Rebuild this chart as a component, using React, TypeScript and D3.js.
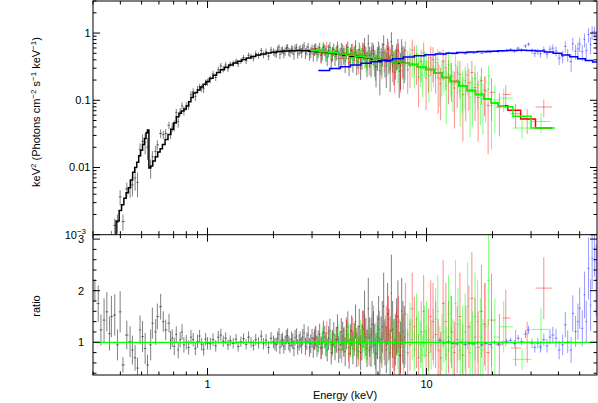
import React, { useEffect, useRef } from "react";
import * as d3 from "d3";

// data rows: [energy keV, data/model ratio, ratio error]
const blackData: [number, number, number][] = [
  [0.306, 2.0, 0.22], [0.317, 1.75, 0.35], [0.326, 1.24, 0.3], [0.337, 1.43, 0.42], [0.347, 1.59, 0.38],
  [0.357, 1.17, 0.33], [0.364, 1.5, 0.4], [0.377, 1.53, 0.4], [0.388, 0.95, 0.3], [0.399, 1.59, 0.4],
  [0.411, 0.56, 0.15], [0.428, 1.14, 0.28], [0.443, 1.01, 0.3], [0.454, 0.85, 0.28], [0.467, 0.7, 0.25],
  [0.479, 0.5, 0.2], [0.492, 1.24, 0.28], [0.505, 1.11, 0.3], [0.519, 0.88, 0.3], [0.532, 0.56, 0.2],
  [0.55, 0.95, 0.3], [0.56, 1.37, 0.3], [0.58, 1.2, 0.25], [0.59, 1.5, 0.25], [0.611, 1.69, 0.25],
  [0.628, 1.4, 0.2], [0.644, 1.24, 0.2], [0.667, 1.37, 0.18], [0.678, 1.04, 0.18],
  [0.69, 1.08, 0.17], [0.705, 0.92, 0.17], [0.72, 1.15, 0.16], [0.735, 0.85, 0.16], [0.75, 1.05, 0.15],
  [0.765, 1.2, 0.15], [0.78, 0.95, 0.15], [0.8, 1.0, 0.14], [0.82, 0.9, 0.14], [0.84, 1.1, 0.14],
  [0.86, 1.05, 0.13], [0.88, 0.88, 0.13], [0.9, 1.02, 0.13], [0.92, 1.12, 0.12], [0.94, 0.96, 0.12],
  [0.96, 0.86, 0.12], [0.98, 1.06, 0.12], [1.0, 0.98, 0.12],
  [1.03, 0.97, 0.12], [1.06, 1.05, 0.12], [1.09, 0.93, 0.11], [1.12, 1.1, 0.12], [1.15, 1.14, 0.12],
  [1.18, 1.02, 0.11], [1.21, 1.08, 0.11], [1.24, 0.95, 0.1], [1.27, 1.03, 0.1], [1.31, 0.98, 0.1],
  [1.35, 1.06, 0.1], [1.38, 0.92, 0.1], [1.42, 1.01, 0.1], [1.46, 1.07, 0.1], [1.5, 0.96, 0.1],
  [1.54, 1.1, 0.11], [1.58, 1.0, 0.1], [1.62, 0.94, 0.1], [1.66, 1.05, 0.11], [1.71, 0.99, 0.11],
  [1.76, 1.12, 0.11], [1.8, 0.97, 0.11], [1.85, 1.04, 0.12], [1.9, 0.9, 0.12], [1.95, 1.08, 0.12],
  [2.0, 1.01, 0.12], [2.03, 0.97, 0.12], [2.06, 0.95, 0.13], [2.09, 1.08, 0.13], [2.12, 1.15, 0.13],
  [2.14, 0.9, 0.13], [2.17, 1.03, 0.13], [2.2, 1.06, 0.13], [2.23, 0.92, 0.14], [2.26, 0.99, 0.14],
  [2.29, 1.1, 0.14], [2.32, 1.13, 0.14], [2.35, 0.98, 0.14], [2.38, 0.94, 0.14], [2.42, 1.06, 0.15],
  [2.45, 1.02, 0.15], [2.48, 0.88, 0.15], [2.51, 1.09, 0.15], [2.55, 1.12, 0.15], [2.58, 0.91, 0.15],
  [2.62, 1.0, 0.16], [2.65, 1.05, 0.16], [2.69, 0.94, 0.16], [2.72, 1.1, 0.16], [2.76, 1.18, 0.17],
  [2.8, 0.92, 0.17], [2.84, 1.02, 0.17], [2.88, 1.14, 0.17], [2.92, 0.9, 0.18], [2.96, 0.97, 0.18],
  [3.0, 1.08, 0.18],
  [3.04, 0.9, 0.2], [3.08, 1.05, 0.2], [3.12, 1.12, 0.2], [3.16, 0.92, 0.2], [3.2, 1.02, 0.21],
  [3.25, 1.15, 0.21], [3.3, 0.88, 0.21], [3.34, 0.98, 0.22], [3.38, 1.2, 0.22], [3.43, 1.1, 0.22],
  [3.47, 0.95, 0.22], [3.52, 0.85, 0.22], [3.57, 1.08, 0.23], [3.62, 1.22, 0.24], [3.67, 0.8, 0.23],
  [3.72, 1.0, 0.24], [3.77, 1.15, 0.24], [3.82, 0.9, 0.25], [3.87, 1.05, 0.25], [3.92, 1.28, 0.26],
  [3.97, 0.86, 0.26], [4.03, 0.95, 0.27], [4.08, 1.2, 0.27], [4.14, 1.12, 0.28], [4.19, 1.0, 0.28],
  [4.25, 0.82, 0.28], [4.31, 1.15, 0.29], [4.37, 1.3, 0.3], [4.43, 0.78, 0.29], [4.49, 1.05, 0.3],
  [4.55, 1.22, 0.3], [4.61, 0.88, 0.31], [4.67, 1.05, 0.32], [4.74, 1.4, 0.33], [4.8, 0.85, 0.33],
  [4.87, 1.0, 0.33], [4.93, 1.3, 0.35], [5.0, 0.8, 0.34], [5.07, 1.0, 0.35], [5.14, 1.25, 0.36],
  [5.21, 1.5, 0.5], [5.28, 1.1, 0.37], [5.35, 0.88, 0.36], [5.42, 1.65, 0.6], [5.5, 1.1, 0.38],
  [5.57, 0.9, 0.38], [5.64, 1.35, 0.45], [5.72, 1.2, 0.4], [5.8, 0.95, 0.4], [5.88, 0.78, 0.4],
  [5.96, 1.1, 0.42], [6.04, 1.45, 0.45], [6.12, 0.7, 0.4], [6.2, 1.05, 0.45], [6.28, 1.3, 0.5],
  [6.37, 1.7, 0.65], [6.46, 1.0, 0.45], [6.55, 0.85, 0.45], [6.64, 1.55, 0.6], [6.73, 1.15, 0.5],
  [6.82, 0.8, 0.45], [6.91, 1.95, 0.75], [7.0, 1.25, 0.55], [7.1, 0.95, 0.5], [7.2, 1.05, 0.5],
  [7.3, 1.3, 0.55], [7.4, 1.5, 0.7], [7.5, 0.75, 0.45], [7.6, 0.9, 0.5], [7.7, 1.6, 0.65],
  [7.8, 1.2, 0.6], [7.91, 1.1, 0.6],
];

// model rows: [bin centre keV, keV^2 flux]
const blackModel: [number, number][] = [
  [0.3, 0.00015], [0.32, 0.00025], [0.34, 0.0004], [0.36, 0.0006], [0.375, 0.0009], [0.39, 0.0016],
  [0.4, 0.0023], [0.41, 0.0028], [0.42, 0.0035], [0.43, 0.0042], [0.44, 0.005], [0.45, 0.0065],
  [0.46, 0.0085], [0.47, 0.01], [0.48, 0.012], [0.49, 0.015], [0.5, 0.018], [0.51, 0.022],
  [0.52, 0.027], [0.528, 0.033], [0.535, 0.036], [0.545, 0.0098], [0.555, 0.0105], [0.57, 0.0125],
  [0.585, 0.0145], [0.6, 0.017], [0.615, 0.019], [0.63, 0.022], [0.65, 0.026], [0.67, 0.031],
  [0.69, 0.037], [0.71, 0.046], [0.73, 0.057], [0.75, 0.064], [0.77, 0.069], [0.79, 0.074],
  [0.81, 0.082], [0.83, 0.095], [0.85, 0.11], [0.87, 0.128], [0.89, 0.13], [0.91, 0.142],
  [0.94, 0.158], [0.97, 0.173], [1.0, 0.19], [1.04, 0.212], [1.08, 0.235], [1.12, 0.258],
  [1.17, 0.285], [1.22, 0.31], [1.28, 0.335], [1.34, 0.36], [1.4, 0.38], [1.47, 0.403],
  [1.54, 0.425], [1.62, 0.45], [1.7, 0.47], [1.8, 0.49], [1.9, 0.505], [2.0, 0.52], [2.15, 0.532],
  [2.3, 0.54], [2.45, 0.546], [2.6, 0.548], [2.8, 0.545], [3.0, 0.537], [3.2, 0.527], [3.45, 0.513],
  [3.7, 0.5], [4.0, 0.485], [4.3, 0.468], [4.65, 0.452], [5.0, 0.437], [5.4, 0.422], [5.8, 0.408],
  [6.25, 0.395], [6.7, 0.382], [7.2, 0.37], [7.7, 0.36],
];

const redData: [number, number, number][] = [
  [3.1, 1.08, 0.22], [3.3, 0.9, 0.22], [3.5, 1.18, 0.23], [3.7, 0.95, 0.24], [3.9, 1.05, 0.25],
  [4.1, 0.85, 0.25], [4.2, 1.05, 0.26], [4.3, 1.22, 0.27], [4.4, 0.9, 0.27], [4.5, 0.98, 0.27],
  [4.6, 1.2, 0.28], [4.7, 1.1, 0.28], [4.8, 1.0, 0.28], [4.9, 0.82, 0.28], [5.0, 0.95, 0.3],
  [5.1, 1.3, 0.32], [5.22, 1.15, 0.31], [5.35, 0.95, 0.3], [5.47, 0.85, 0.3], [5.6, 1.15, 0.33],
  [5.72, 1.35, 0.36], [5.85, 0.78, 0.3], [5.97, 1.0, 0.33], [6.1, 1.25, 0.36], [6.25, 0.85, 0.35],
  [6.4, 1.02, 0.36], [6.55, 1.3, 0.4], [6.7, 1.45, 0.45], [6.85, 1.1, 0.4], [7.0, 0.88, 0.38],
  [7.15, 0.7, 0.36], [7.3, 1.2, 0.45], [7.45, 1.4, 0.5], [7.6, 0.75, 0.4], [7.8, 1.05, 0.48],
  [8.0, 1.55, 0.6], [8.2, 0.8, 0.45], [8.4, 0.95, 0.5], [8.6, 1.65, 0.7], [8.8, 1.3, 0.58],
  [9.0, 1.0, 0.5], [9.2, 0.7, 0.45], [9.45, 1.2, 0.6], [9.7, 1.6, 0.7], [9.95, 0.75, 0.5],
  [10.2, 1.05, 0.6], [10.45, 1.5, 0.7], [10.7, 1.4, 0.75], [11.0, 1.15, 0.65], [11.3, 0.85, 0.6],
  [11.6, 0.7, 0.5], [11.9, 1.75, 0.85], [12.25, 1.4, 0.75], [12.6, 1.1, 0.7], [13.0, 1.2, 0.7],
  [13.4, 0.8, 0.6], [13.8, 1.05, 0.65], [14.2, 1.5, 0.85], [14.65, 0.75, 0.6], [15.1, 1.0, 0.7],
  [15.6, 1.3, 0.8], [16.1, 1.85, 0.9], [16.65, 1.1, 0.75], [17.2, 0.9, 0.7], [17.8, 1.6, 0.9],
  [18.4, 1.35, 0.8], [19.1, 0.8, 0.65], [19.8, 1.43, 0.9], [21.5, 0.95, 0.6], [23.0, 1.47, 0.55],
  [25.5, 0.89, 0.35], [28.8, 1.0, 0.4], [34.3, 2.05, 0.6],
];

const redModel: [number, number][] = [
  [3.1, 0.545], [3.4, 0.528], [3.75, 0.51], [4.1, 0.49], [4.5, 0.468], [4.95, 0.448], [5.45, 0.428],
  [6.0, 0.408], [6.6, 0.39], [7.3, 0.372], [8.0, 0.355], [8.7, 0.34], [9.5, 0.315], [10.4, 0.287],
  [11.3, 0.252], [12.3, 0.218], [13.4, 0.19], [14.7, 0.162], [16.0, 0.14], [17.5, 0.122],
  [19.0, 0.105], [20.5, 0.092], [22.0, 0.083], [25.1, 0.071], [28.8, 0.0527], [34.3, 0.0387],
];

const greenData: [number, number, number][] = [
  [3.05, 1.02, 0.18], [3.2, 0.95, 0.18], [3.35, 1.1, 0.19], [3.5, 0.92, 0.19], [3.65, 1.05, 0.2],
  [3.8, 0.98, 0.2], [3.95, 1.15, 0.21], [4.1, 0.88, 0.21], [4.2, 1.0, 0.21], [4.3, 1.08, 0.22],
  [4.4, 1.15, 0.22], [4.5, 0.96, 0.22], [4.6, 0.9, 0.22], [4.7, 1.12, 0.23], [4.8, 1.02, 0.23],
  [4.9, 0.9, 0.23], [5.0, 1.2, 0.24], [5.1, 1.04, 0.24], [5.2, 0.92, 0.24], [5.3, 0.85, 0.25],
  [5.4, 1.05, 0.25], [5.5, 1.18, 0.26], [5.62, 0.8, 0.26], [5.75, 0.95, 0.27], [5.87, 1.12, 0.27],
  [6.0, 1.08, 0.28], [6.12, 1.0, 0.28], [6.25, 0.82, 0.28], [6.37, 1.3, 0.3], [6.5, 1.22, 0.3],
  [6.65, 0.88, 0.3], [6.8, 0.98, 0.3], [6.95, 1.2, 0.32], [7.1, 1.1, 0.32], [7.25, 1.0, 0.32],
  [7.4, 0.8, 0.32], [7.55, 1.1, 0.35], [7.7, 1.25, 0.36], [7.85, 0.75, 0.35], [8.0, 0.92, 0.36],
  [8.2, 1.15, 0.4], [8.4, 1.35, 0.42], [8.6, 1.05, 0.4], [8.8, 0.85, 0.4], [9.0, 1.45, 0.5],
  [9.2, 1.15, 0.45], [9.4, 0.95, 0.45], [9.6, 0.75, 0.4], [9.8, 1.2, 0.5], [10.0, 1.3, 0.5],
  [10.25, 0.8, 0.48], [10.5, 0.95, 0.48], [10.75, 1.1, 0.55], [11.0, 1.45, 0.6], [11.25, 1.6, 0.7],
  [11.5, 0.82, 0.5], [11.75, 1.0, 0.55], [12.0, 1.2, 0.6], [12.3, 0.75, 0.55], [12.6, 1.55, 0.75],
  [12.9, 1.25, 0.65], [13.2, 0.9, 0.55], [13.55, 1.75, 0.85], [13.9, 1.35, 0.7], [14.25, 0.85, 0.6],
  [14.6, 1.05, 0.65], [15.0, 1.2, 0.75], [15.4, 1.7, 0.85], [15.8, 0.8, 0.6], [16.2, 0.95, 0.65],
  [16.65, 1.5, 0.85], [17.1, 1.4, 0.8], [17.6, 1.1, 0.75], [18.1, 0.85, 0.6], [18.6, 1.3, 0.85],
  [19.2, 2.2, 0.88], [19.8, 0.9, 0.7], [20.5, 1.1, 0.75], [22.5, 1.3, 0.5], [27.3, 0.67, 0.2],
  [33.3, 1.25, 0.42],
];

const greenModel: [number, number][] = [
  [3.1, 0.545], [3.4, 0.528], [3.75, 0.51], [4.1, 0.49], [4.5, 0.468], [4.95, 0.448], [5.45, 0.428],
  [6.0, 0.408], [6.6, 0.39], [7.3, 0.372], [8.0, 0.355], [8.7, 0.34], [9.5, 0.315], [10.4, 0.287],
  [11.3, 0.252], [12.3, 0.218], [13.4, 0.19], [14.7, 0.162], [16.0, 0.14], [17.5, 0.122],
  [19.0, 0.105], [20.5, 0.092], [22.0, 0.083], [23.2, 0.0798], [26.5, 0.0577], [34.0, 0.0387],
];

const blueData: [number, number, number][] = [
  [11.5, 1.04, 0.05], [12.0, 0.99, 0.04], [12.6, 1.01, 0.04], [13.2, 0.98, 0.035], [13.8, 0.97, 0.035],
  [14.4, 1.0, 0.03], [15.0, 0.96, 0.03], [15.7, 0.98, 0.03], [16.4, 0.97, 0.03], [17.1, 0.99, 0.03],
  [17.9, 0.95, 0.03], [18.7, 0.98, 0.03], [19.5, 0.96, 0.035], [20.4, 1.0, 0.035], [21.3, 0.97, 0.04],
  [22.2, 0.99, 0.04], [23.2, 1.02, 0.05], [24.2, 1.04, 0.05], [25.2, 0.98, 0.06], [26.2, 1.08, 0.06],
  [27.1, 1.01, 0.07], [28.3, 1.16, 0.08], [29.2, 1.24, 0.08], [30.3, 0.98, 0.09], [31.2, 0.9, 0.1],
  [32.2, 0.98, 0.1], [33.1, 0.91, 0.11], [34.3, 1.05, 0.12], [35.5, 0.93, 0.13], [36.6, 1.1, 0.14],
  [37.7, 1.14, 0.16], [39.0, 1.08, 0.18], [40.3, 0.85, 0.18], [41.8, 0.95, 0.2], [43.0, 1.34, 0.25],
  [44.1, 1.01, 0.22], [45.7, 0.85, 0.25], [46.5, 1.56, 0.35], [47.9, 1.21, 0.3], [49.1, 1.4, 0.35],
  [50.0, 1.66, 0.4], [51.4, 1.27, 0.35], [52.6, 1.92, 0.45], [53.6, 1.4, 0.4], [54.9, 2.43, 0.6],
  [56.1, 1.72, 0.5], [57.0, 2.63, 0.6], [58.4, 2.82, 0.55], [59.5, 2.2, 0.7],
];

const blueModel: [number, number][] = [
  [3.4, 0.277], [3.83, 0.297], [4.25, 0.316], [4.75, 0.335], [5.3, 0.355], [5.9, 0.375], [6.6, 0.395],
  [7.4, 0.415], [8.3, 0.44], [9.3, 0.46], [10.4, 0.475], [11.6, 0.49], [13.0, 0.503], [14.5, 0.513],
  [16.2, 0.522], [18.0, 0.53], [20.0, 0.538], [22.2, 0.545], [24.6, 0.55], [27.2, 0.553], [30.0, 0.552],
  [33.0, 0.54], [36.2, 0.522], [39.6, 0.5], [43.2, 0.472], [47.0, 0.443], [51.0, 0.415], [55.2, 0.392],
  [59.6, 0.37],
];

const xMajorTicks = [1, 10];
const xTickLabels = ["1", "10"];
const xMinorTicks = [0.3, 0.4, 0.5, 0.6, 0.7, 0.8, 0.9, 2, 3, 4, 5, 6, 7, 8, 9, 20, 30, 40, 50];
const fluxMajorTicks = [0.001, 0.01, 0.1, 1];
const fluxTickLabels = ["10", "0.01", "0.1", "1"];
const ratioMajorTicks = [1, 2, 3];
const ratioTickLabels = ["1", "2", "3"];

const FONT = "'Liberation Sans', Arial, sans-serif";

// geometric mid-points between neighbouring bin centres
const binEdges = (es: number[]) =>
  es.map((e, i) => {
    const lo = i > 0 ? Math.sqrt(es[i - 1] * e) : (e * e) / Math.sqrt(e * es[i + 1]);
    const hi = i < es.length - 1 ? Math.sqrt(e * es[i + 1]) : (e * e) / Math.sqrt(es[i - 1] * e);
    return [lo, hi];
  });

// model is a histogram: take the bin whose centre is nearest in log energy
const modelAt = (m: [number, number][], e: number) =>
  m.reduce((best, r) => (Math.abs(Math.log(r[0] / e)) < Math.abs(Math.log(best[0] / e)) ? r : best))[1];

const App = () => {
  const svgRef = useRef<SVGSVGElement>(null);

  useEffect(() => {
    const svg = d3.select(svgRef.current);
    svg.selectAll("*").remove();

    const L = 93, R = 597, T = 1, M = 234.7, B = 375;
    const x = d3.scaleLog().domain([0.3, 60]).range([L, R]);
    const yTop = d3.scaleLog().domain([1e-3, 3]).range([M, T]);
    const yRat = d3.scaleLinear().domain([0.366, 3.085]).range([B, M]);

    const defs = svg.append("defs");
    defs.append("clipPath").attr("id", "clipTop").append("rect")
      .attr("x", L).attr("y", T).attr("width", R - L).attr("height", M - T);
    defs.append("clipPath").attr("id", "clipBot").append("rect")
      .attr("x", L).attr("y", M).attr("width", R - L).attr("height", B - M);

    const top = svg.append("g").attr("clip-path", "url(#clipTop)");
    const bot = svg.append("g").attr("clip-path", "url(#clipBot)");

    const series = [
      { data: blackData, model: blackModel, color: "#000000", op: 0.5 },
      { data: redData, model: redModel, color: "#ff0000", op: 0.45 },
      { data: greenData, model: greenModel, color: "#00ff00", op: 0.5 },
      { data: blueData, model: blueModel, color: "#0000ff", op: 0.4 },
    ];

    // data crosses
    series.forEach((s) => {
      const edges = binEdges(s.data.map((d) => d[0]));
      s.data.forEach((d, i) => {
        const [e, r, err] = d;
        const m = modelAt(s.model, e);
        const lo = Math.max(r - err, 1e-4);
        const px = x(e);
        top.append("line")
          .attr("x1", px).attr("x2", px)
          .attr("y1", yTop(lo * m)).attr("y2", yTop((r + err) * m))
          .attr("stroke", s.color).attr("stroke-opacity", s.op);
        top.append("line")
          .attr("x1", x(edges[i][0])).attr("x2", x(edges[i][1]))
          .attr("y1", yTop(r * m)).attr("y2", yTop(r * m))
          .attr("stroke", s.color).attr("stroke-opacity", s.op);
        bot.append("line")
          .attr("x1", px).attr("x2", px)
          .attr("y1", yRat(r - err)).attr("y2", yRat(r + err))
          .attr("stroke", s.color).attr("stroke-opacity", s.op);
        bot.append("line")
          .attr("x1", x(edges[i][0])).attr("x2", x(edges[i][1]))
          .attr("y1", yRat(r)).attr("y2", yRat(r))
          .attr("stroke", s.color).attr("stroke-opacity", s.op);
      });
    });

    // model histograms
    const line = d3.line<[number, number]>().x((d) => x(d[0])).y((d) => yTop(d[1]));
    series.forEach((s) => {
      const edges = binEdges(s.model.map((d) => d[0]));
      const pts: [number, number][] = [];
      s.model.forEach((d, i) => {
        pts.push([edges[i][0], d[1]]);
        pts.push([edges[i][1], d[1]]);
      });
      top.append("path").attr("d", line(pts)).attr("fill", "none")
        .attr("stroke", s.color).attr("stroke-width", 1.5);
    });

    // ratio = 1 reference line
    bot.append("line")
      .attr("x1", L).attr("x2", R).attr("y1", yRat(1)).attr("y2", yRat(1))
      .attr("stroke", "#00ff00").attr("stroke-width", 1.2);

    // frame
    const axes = svg.append("g").attr("stroke", "#000").attr("stroke-width", 1).attr("fill", "none");
    axes.append("rect").attr("x", L).attr("y", T).attr("width", R - L).attr("height", B - T);
    axes.append("line").attr("x1", L).attr("x2", R).attr("y1", M).attr("y2", M);

    const tick = (x1: number, y1: number, x2: number, y2: number) =>
      axes.append("line").attr("x1", x1).attr("y1", y1).attr("x2", x2).attr("y2", y2);

    const MAJ = 7, MIN = 3.5;
    [...xMajorTicks.map((v) => [v, MAJ]), ...xMinorTicks.map((v) => [v, MIN])].forEach(([v, len]) => {
      const px = x(v);
      tick(px, T, px, T + len);
      tick(px, M, px, M - len);
      tick(px, M, px, M + len);
      tick(px, B, px, B - len);
    });

    const fluxMinor: number[] = [];
    [0.001, 0.01, 0.1, 1].forEach((d) => {
      for (let k = 2; k <= 9; k++) if (d * k <= 3) fluxMinor.push(d * k);
    });
    [...fluxMajorTicks.map((v) => [v, MAJ]), ...fluxMinor.map((v) => [v, MIN])].forEach(([v, len]) => {
      const py = yTop(v);
      tick(L, py, L + len, py);
      tick(R, py, R - len, py);
    });

    const ratioMinor = d3.range(4, 31, 2).map((v) => v / 10).filter((v) => v % 1 !== 0);
    [...ratioMajorTicks.map((v) => [v, MAJ]), ...ratioMinor.map((v) => [v, MIN])].forEach(([v, len]) => {
      const py = yRat(v);
      tick(L, py, L + len, py);
      tick(R, py, R - len, py);
    });

    // labels
    const txt = svg.append("g").attr("font-family", FONT).attr("font-size", 11).attr("fill", "#000");

    xMajorTicks.forEach((v, i) => {
      txt.append("text").attr("x", x(v)).attr("y", 388).attr("text-anchor", "middle").text(xTickLabels[i]);
    });

    fluxMajorTicks.forEach((v, i) => {
      if (v === 0.001) {
        const t = txt.append("text").attr("x", 86).attr("y", 239).attr("text-anchor", "end");
        t.append("tspan").text(fluxTickLabels[i]);
        t.append("tspan").attr("dy", -5).attr("font-size", 8).text("−3");
      } else {
        txt.append("text").attr("x", 90.5).attr("y", yTop(v) + 4).attr("text-anchor", "end").text(fluxTickLabels[i]);
      }
    });

    ratioMajorTicks.forEach((v, i) => {
      const py = v === 3 ? 243 : yRat(v) + 4;
      txt.append("text").attr("x", 84).attr("y", py).attr("text-anchor", "end").text(ratioTickLabels[i]);
    });

    txt.append("text").attr("x", 345).attr("y", 399).attr("text-anchor", "middle").text("Energy (keV)");

    txt.append("text").attr("transform", "translate(40,306) rotate(-90)")
      .attr("text-anchor", "middle").text("ratio");

    const yTitle = txt.append("text").attr("transform", "translate(40,112) rotate(-90)")
      .attr("text-anchor", "middle");
    const parts: [string, boolean][] = [
      ["keV", false], ["2", true], [" (Photons cm", false], ["−2", true], [" s", false],
      ["−1", true], [" keV", false], ["−1", true], [")", false],
    ];
    let raised = false;
    parts.forEach(([s, sup]) => {
      const ts = yTitle.append("tspan").text(s);
      if (sup && !raised) { ts.attr("dy", -4).attr("font-size", 8); raised = true; }
      else if (sup) ts.attr("font-size", 8);
      else if (raised) { ts.attr("dy", 4); raised = false; }
    });
  }, []);

  return (
    <svg
      ref={svgRef}
      width={598}
      height={403}
      style={{ position: "absolute", left: 0, top: 0, background: "#fff" }}
    />
  );
};

export default App;
